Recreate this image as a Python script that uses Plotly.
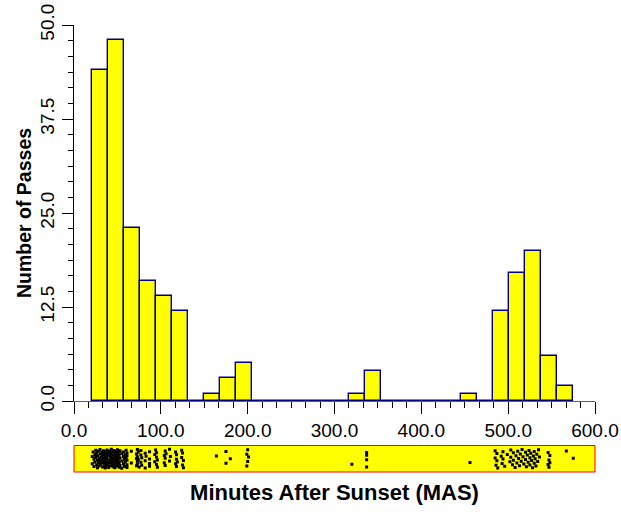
import plotly.graph_objects as go

# ---- data ----
bin_start = 20.5          # minutes after sunset, first bin edge
bin_width = 18.48         # width of each histogram bin (minutes)
counts = [44, 48, 23, 16, 14, 12, 0, 1, 3, 5,
          0, 0, 0, 0, 0, 0, 1, 4, 0, 0,
          0, 0, 0, 1, 0, 12, 17, 20, 6, 2]

# individual passes (minutes after sunset) shown in the rug strip
rug_mas = [
    21, 21, 22, 23, 23, 24, 24, 25, 25, 26, 26, 27, 27, 27, 28, 28, 29, 29, 30, 30, 30, 31,
    31, 32, 32, 33, 33, 33, 34, 34, 35, 35, 35, 36, 36, 36, 37, 37, 37, 38, 38, 38, 38, 38.5,
    40, 40, 40, 41, 41, 41, 42, 42, 42, 43, 43, 43, 44, 44, 44, 45, 45, 45, 46, 46, 46, 47,
    47, 47, 48, 48, 48, 49, 49, 49, 50, 50, 50, 51, 51, 51, 52, 52, 52, 53, 53, 53, 55, 55,
    55, 57, 57, 57,
    58, 58, 59, 59, 60, 60, 61, 61, 61, 61, 61, 66, 66, 72, 72, 72, 73, 73, 73, 73, 74, 74, 75,
    77, 77, 77, 78, 78, 82, 82, 82, 83, 87, 87, 87, 87, 93, 93, 94,
    95, 95, 95, 96, 96, 104, 104, 105, 105, 105, 106, 110, 110, 111,
    117, 117, 118, 118, 118, 119, 124, 124, 125, 125, 126, 126,
    164, 175, 175, 180, 199, 199, 200, 200, 201,
    320, 337, 337, 337, 337, 456,
    485, 485, 486, 487, 487, 488, 492, 493, 494, 494, 496, 499,
    502, 503, 503, 505, 506, 506, 508, 509, 510, 511, 512, 513, 514, 515, 516, 517, 518,
    520, 520, 521, 522, 523, 524, 525, 525, 526, 527, 528, 529, 530, 530, 531, 532, 533, 534,
    535, 536,
    546, 546, 547, 547, 548, 548,
    567, 575,
]

x_ticks = [0, 100, 200, 300, 400, 500, 600]
y_ticks = [0, 12.5, 25, 37.5, 50]

# ---- derived drawing helpers ----
centers = [bin_start + (i + 0.5) * bin_width for i in range(len(counts))]
edges = [bin_start, bin_start + len(counts) * bin_width]
# vertical spread of rug dots (visual offset only, deterministic hash, not data)
rug_y = [0.14 + 0.72 * (((i + 1) * 2654435761 % 4294967296) / 4294967296.0)
         for i in range(len(rug_mas))]

FONT = "Arial, Liberation Sans, Helvetica, sans-serif"

fig = go.Figure()
fig.add_trace(go.Bar(
    x=centers, y=counts, width=bin_width,
    marker=dict(color="#FFFF00", line=dict(color="#000080", width=1.4)),
    xaxis="x", yaxis="y", showlegend=False, hoverinfo="x+y",
))
fig.add_trace(go.Scatter(
    x=edges, y=[0, 0], mode="lines", line=dict(color="#000080", width=1.5),
    xaxis="x", yaxis="y", showlegend=False, hoverinfo="skip", cliponaxis=False,
))
fig.add_trace(go.Scatter(
    x=rug_mas, y=rug_y, mode="markers",
    marker=dict(color="black", size=3, symbol="square", line=dict(width=0)),
    xaxis="x2", yaxis="y2", showlegend=False,
))

fig.update_layout(
    template="none",
    width=621, height=512,
    margin=dict(l=74, r=26, t=25, b=40),
    paper_bgcolor="white", plot_bgcolor="white",
    font=dict(family=FONT, color="black"),
    bargap=0,
    xaxis=dict(
        domain=[0, 1], anchor="y", range=[0, 600],
        tickmode="array", tickvals=x_ticks, tickformat=".1f",
        ticks="outside", ticklen=12, tickwidth=1, tickcolor="black",
        minor=dict(dtick=100 / 6, tick0=0, ticks="outside", ticklen=6, tickcolor="black", showgrid=False),
        showline=True, linecolor="#606060", linewidth=1, layer="below traces",
        showgrid=False, zeroline=False, automargin=False,
        tickfont=dict(size=19, family=FONT),
    ),
    yaxis=dict(
        domain=[0.1588, 1], anchor="x", range=[0, 50],
        tickmode="array", tickvals=y_ticks, tickformat=".1f", tickangle=-90,
        ticks="outside", ticklen=11, tickwidth=1, tickcolor="black",
        minor=dict(dtick=12.5 / 6, tick0=0, ticks="outside", ticklen=5, tickcolor="black", showgrid=False),
        showline=True, linecolor="black", linewidth=1,
        showgrid=False, zeroline=False, automargin=False,
        tickfont=dict(size=19, family=FONT),
        title=dict(text="<b>Number of Passes</b>", font=dict(size=19.5, family=FONT), standoff=0),
    ),
    xaxis2=dict(
        domain=[0, 1], anchor="y2", range=[0, 600],
        showticklabels=False, ticks="", showline=False, showgrid=False, zeroline=False,
        automargin=False,
        title=dict(text="<b>Minutes After Sunset (MAS)</b>", font=dict(size=22, family=FONT), standoff=12),
    ),
    yaxis2=dict(
        domain=[0, 0.0593], anchor="x2", range=[0, 1],
        showticklabels=False, ticks="", showline=False, showgrid=False, zeroline=False,
        automargin=False,
    ),
    shapes=[dict(
        type="rect", xref="x2 domain", yref="y2 domain", x0=0, x1=1, y0=0, y1=1,
        fillcolor="#FFFF00", line=dict(color="#FF0000", width=1), layer="below",
    )],
)

fig.write_html("out.html")
